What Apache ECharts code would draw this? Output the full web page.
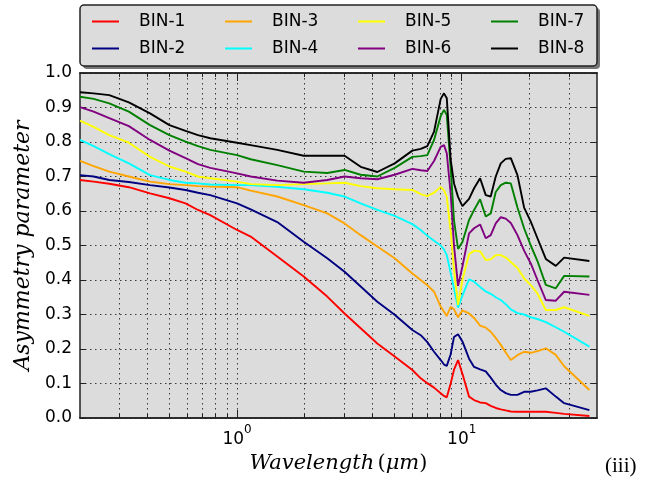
<!DOCTYPE html>
<html><head><meta charset="utf-8">
<script src="https://cdn.jsdelivr.net/npm/echarts@6/dist/echarts.min.js"></script>
<style>html,body{margin:0;padding:0;background:#fff}#c{width:645px;height:495px}</style>
</head><body><div id="c"></div>
<script>
// Wavelength samples (µm) shared by all bins
const wavelength = [0.2, 0.23, 0.27, 0.33, 0.41, 0.5, 0.59, 0.67, 0.76, 1.0, 1.15, 1.51, 1.98, 2.52, 3.01, 3.55, 4.21, 5.03, 6.03,
  6.57, 7.03, 7.53, 8.06, 8.34, 8.58, 8.93, 9.24, 9.63, 10.07, 10.78, 11.35, 12.07, 12.79, 13.46, 14.17,
  14.92, 15.70, 16.54, 17.70, 18.95, 20.29, 21.73, 23.67, 26.22, 28.57, 37.0];

const bin1 = [0.690, 0.685, 0.679, 0.669, 0.651, 0.637, 0.622, 0.603, 0.588, 0.545, 0.526, 0.468, 0.410, 0.352, 0.303, 0.260, 0.216, 0.178, 0.139,
  0.115, 0.101, 0.088, 0.072, 0.064, 0.060, 0.100, 0.140, 0.168, 0.128, 0.062, 0.052, 0.045, 0.043, 0.035, 0.029,
  0.025, 0.022, 0.019, 0.018, 0.018, 0.018, 0.018, 0.018, 0.015, 0.012, 0.006];
const bin2 = [0.704, 0.700, 0.690, 0.684, 0.675, 0.668, 0.661, 0.653, 0.646, 0.622, 0.605, 0.568, 0.511, 0.463, 0.424, 0.381, 0.337, 0.299, 0.255,
  0.240, 0.220, 0.192, 0.168, 0.155, 0.151, 0.185, 0.235, 0.243, 0.222, 0.172, 0.148, 0.141, 0.135, 0.117, 0.097,
  0.081, 0.072, 0.067, 0.067, 0.076, 0.076, 0.080, 0.086, 0.062, 0.043, 0.023];
const bin3 = [0.745, 0.730, 0.714, 0.700, 0.685, 0.678, 0.675, 0.672, 0.671, 0.669, 0.659, 0.642, 0.617, 0.593, 0.564, 0.530, 0.497, 0.463, 0.419,
  0.400, 0.385, 0.366, 0.323, 0.308, 0.296, 0.322, 0.315, 0.292, 0.312, 0.303, 0.290, 0.268, 0.262, 0.250, 0.232,
  0.212, 0.190, 0.168, 0.182, 0.192, 0.189, 0.194, 0.202, 0.183, 0.150, 0.081];
const bin4 = [0.806, 0.788, 0.765, 0.738, 0.704, 0.690, 0.682, 0.680, 0.677, 0.675, 0.675, 0.670, 0.663, 0.653, 0.642, 0.622, 0.603, 0.586, 0.562,
  0.545, 0.528, 0.514, 0.500, 0.488, 0.472, 0.420, 0.375, 0.320, 0.355, 0.402, 0.395, 0.380, 0.367, 0.360, 0.350,
  0.342, 0.330, 0.315, 0.304, 0.300, 0.292, 0.287, 0.278, 0.263, 0.250, 0.207];
const bin5 = [0.862, 0.844, 0.820, 0.798, 0.757, 0.729, 0.714, 0.700, 0.695, 0.685, 0.678, 0.675, 0.678, 0.680, 0.682, 0.672, 0.666, 0.663, 0.661,
  0.649, 0.643, 0.653, 0.670, 0.660, 0.641, 0.540, 0.430, 0.328, 0.400, 0.475, 0.485, 0.483, 0.458, 0.460, 0.472,
  0.472, 0.465, 0.452, 0.435, 0.405, 0.385, 0.361, 0.313, 0.313, 0.321, 0.296];
const bin6 = [0.901, 0.888, 0.869, 0.846, 0.806, 0.775, 0.753, 0.736, 0.725, 0.709, 0.700, 0.688, 0.682, 0.690, 0.700, 0.695, 0.692, 0.705, 0.722,
  0.718, 0.716, 0.745, 0.786, 0.791, 0.767, 0.650, 0.500, 0.383, 0.439, 0.535, 0.550, 0.561, 0.521, 0.530, 0.564,
  0.582, 0.578, 0.565, 0.530, 0.485, 0.448, 0.400, 0.342, 0.340, 0.366, 0.357];
const bin7 = [0.931, 0.925, 0.912, 0.888, 0.849, 0.820, 0.801, 0.788, 0.777, 0.762, 0.750, 0.733, 0.714, 0.710, 0.719, 0.705, 0.700, 0.725, 0.757,
  0.759, 0.762, 0.806, 0.875, 0.893, 0.878, 0.726, 0.573, 0.490, 0.510, 0.574, 0.603, 0.634, 0.584, 0.593, 0.655,
  0.675, 0.682, 0.680, 0.610, 0.550, 0.500, 0.455, 0.386, 0.376, 0.412, 0.410];
const bin8 = [0.944, 0.941, 0.936, 0.915, 0.883, 0.849, 0.832, 0.820, 0.811, 0.798, 0.791, 0.777, 0.760, 0.760, 0.760, 0.728, 0.713, 0.738, 0.775,
  0.780, 0.788, 0.830, 0.925, 0.941, 0.927, 0.748, 0.680, 0.641, 0.614, 0.635, 0.666, 0.695, 0.646, 0.642, 0.700,
  0.738, 0.751, 0.753, 0.704, 0.610, 0.569, 0.521, 0.461, 0.441, 0.465, 0.455];

const seriesNames = ['BIN-1', 'BIN-2', 'BIN-3', 'BIN-4', 'BIN-5', 'BIN-6', 'BIN-7', 'BIN-8'];
const seriesValues = [bin1, bin2, bin3, bin4, bin5, bin6, bin7, bin8];
const seriesColors = ['#ff0000', '#000080', '#ffa500', '#00ffff', '#ffff00', '#800080', '#008000', '#000000'];

const xMajorTicks = [1, 10];
const xMajorExponents = ['0', '1'];
const xMinorTicks = [0.3, 0.4, 0.5, 0.6, 0.7, 0.8, 0.9, 2, 3, 4, 5, 6, 7, 8, 9, 20, 30];
const xName = 'Wavelength';
const xUnit = 'μm';
const yName = 'Asymmetry parameter';
const panelTag = '(iii)';

const chart = echarts.init(document.getElementById('c'), null, {renderer: 'canvas'});

const frame = {color: '#222', width: 1.5};
const gridLine = {show: true, lineStyle: {type: [1.5, 3.5], color: '#3a3a3a', width: 1}};

function xAxisDef(position, ticks, len, showLabel, split) {
  return {
    type: 'log', logBase: 10, min: 0.2, max: 40, position: position,
    axisLine: {show: true, onZero: false, lineStyle: frame},
    axisTick: {show: true, inside: true, length: len, customValues: ticks, lineStyle: {color: '#222', width: 1}},
    axisLabel: showLabel ? {
      show: true, customValues: xMajorTicks, margin: 6,
      formatter: function (v) {
        let best = 0;
        for (let i = 1; i < xMajorTicks.length; i++) {
          if (Math.abs(Math.log10(xMajorTicks[i]) - Math.log10(v)) < Math.abs(Math.log10(xMajorTicks[best]) - Math.log10(v))) best = i;
        }
        return '{b|10}{s|' + xMajorExponents[best] + '}';
      },
      rich: {
        b: {fontSize: 17, fontFamily: 'DejaVu Sans', color: '#000', verticalAlign: 'bottom', lineHeight: 24},
        s: {fontSize: 12, fontFamily: 'DejaVu Sans', color: '#000', verticalAlign: 'top', lineHeight: 24}
      }
    } : {show: false},
    splitLine: split ? gridLine : {show: false},
    name: showLabel ? '{i|' + xName + '} {n|(}{i|' + xUnit + '}{n|)}' : '',
    nameLocation: 'middle', nameGap: 34,
    nameTextStyle: {
      rich: {
        i: {fontFamily: 'DejaVu Serif', fontStyle: 'italic', fontSize: 21, color: '#000'},
        n: {fontFamily: 'DejaVu Serif', fontSize: 21, color: '#000'}
      }
    }
  };
}

const legends = [];
const legendPos = [[92, 13], [92, 40], [225, 13], [225, 40], [358, 13], [358, 40], [491, 13], [491, 40]];
seriesNames.forEach(function (n, i) {
  legends.push({
    show: true, data: [n], left: legendPos[i][0], top: legendPos[i][1], padding: 0,
    icon: 'rect', itemWidth: 27, itemHeight: 2, selectedMode: false, z: 10,
    textStyle: {fontSize: 17, fontFamily: 'DejaVu Sans', color: '#000', padding: [0, 0, 0, 15]}
  });
});

const option = {
  backgroundColor: '#ffffff',
  animation: false,
  grid: {left: 80, right: 48, top: 73, bottom: 77, show: true, backgroundColor: '#dcdcdc', borderWidth: 0, containLabel: false, outerBoundsMode: 'none'},
  legend: legends,
  xAxis: [
    xAxisDef('bottom', xMajorTicks, 8, true, true),
    xAxisDef('bottom', xMinorTicks, 4, false, true),
    xAxisDef('top', xMajorTicks, 8, false, false),
    xAxisDef('top', xMinorTicks, 4, false, false)
  ],
  yAxis: [
    {
      type: 'value', min: 0, max: 1, interval: 0.1, position: 'left',
      axisLine: {show: true, lineStyle: frame},
      axisTick: {show: true, inside: true, length: 6, lineStyle: {color: '#222'}},
      axisLabel: {fontSize: 17, fontFamily: 'DejaVu Sans', color: '#000', margin: 8, formatter: function (v) { return v.toFixed(1); }},
      splitLine: gridLine,
      name: yName, nameLocation: 'middle', nameGap: 46,
      nameTextStyle: {fontFamily: 'DejaVu Serif', fontStyle: 'italic', fontSize: 22, color: '#000'}
    },
    {
      type: 'value', min: 0, max: 1, interval: 0.1, position: 'right',
      axisLine: {show: true, lineStyle: frame},
      axisTick: {show: true, inside: true, length: 6, lineStyle: {color: '#222'}},
      axisLabel: {show: false}, splitLine: {show: false}
    }
  ],
  series: seriesNames.map(function (n, i) {
    return {
      name: n, type: 'line', xAxisIndex: 0, yAxisIndex: 0,
      data: wavelength.map(function (w, k) { return [w, seriesValues[i][k]]; }),
      symbol: 'none', showSymbol: false, smooth: false,
      lineStyle: {color: seriesColors[i], width: 1.9},
      itemStyle: {color: seriesColors[i]},
      z: 3 + i
    };
  }),
  graphic: [
    {type: 'rect', shape: {x: 83, y: 8, width: 517, height: 61, r: 4}, style: {fill: '#777'}, z: 1, silent: true},
    {type: 'rect', shape: {x: 80, y: 5, width: 517, height: 61, r: 4}, style: {fill: '#dcdcdc', stroke: '#222', lineWidth: 1.5}, z: 2, silent: true},
    {type: 'text', left: 605, top: 456, style: {text: panelTag, fontSize: 21, fontFamily: 'Liberation Serif', fill: '#000'}, z: 3}
  ]
};
chart.setOption(option);
</script></body></html>
